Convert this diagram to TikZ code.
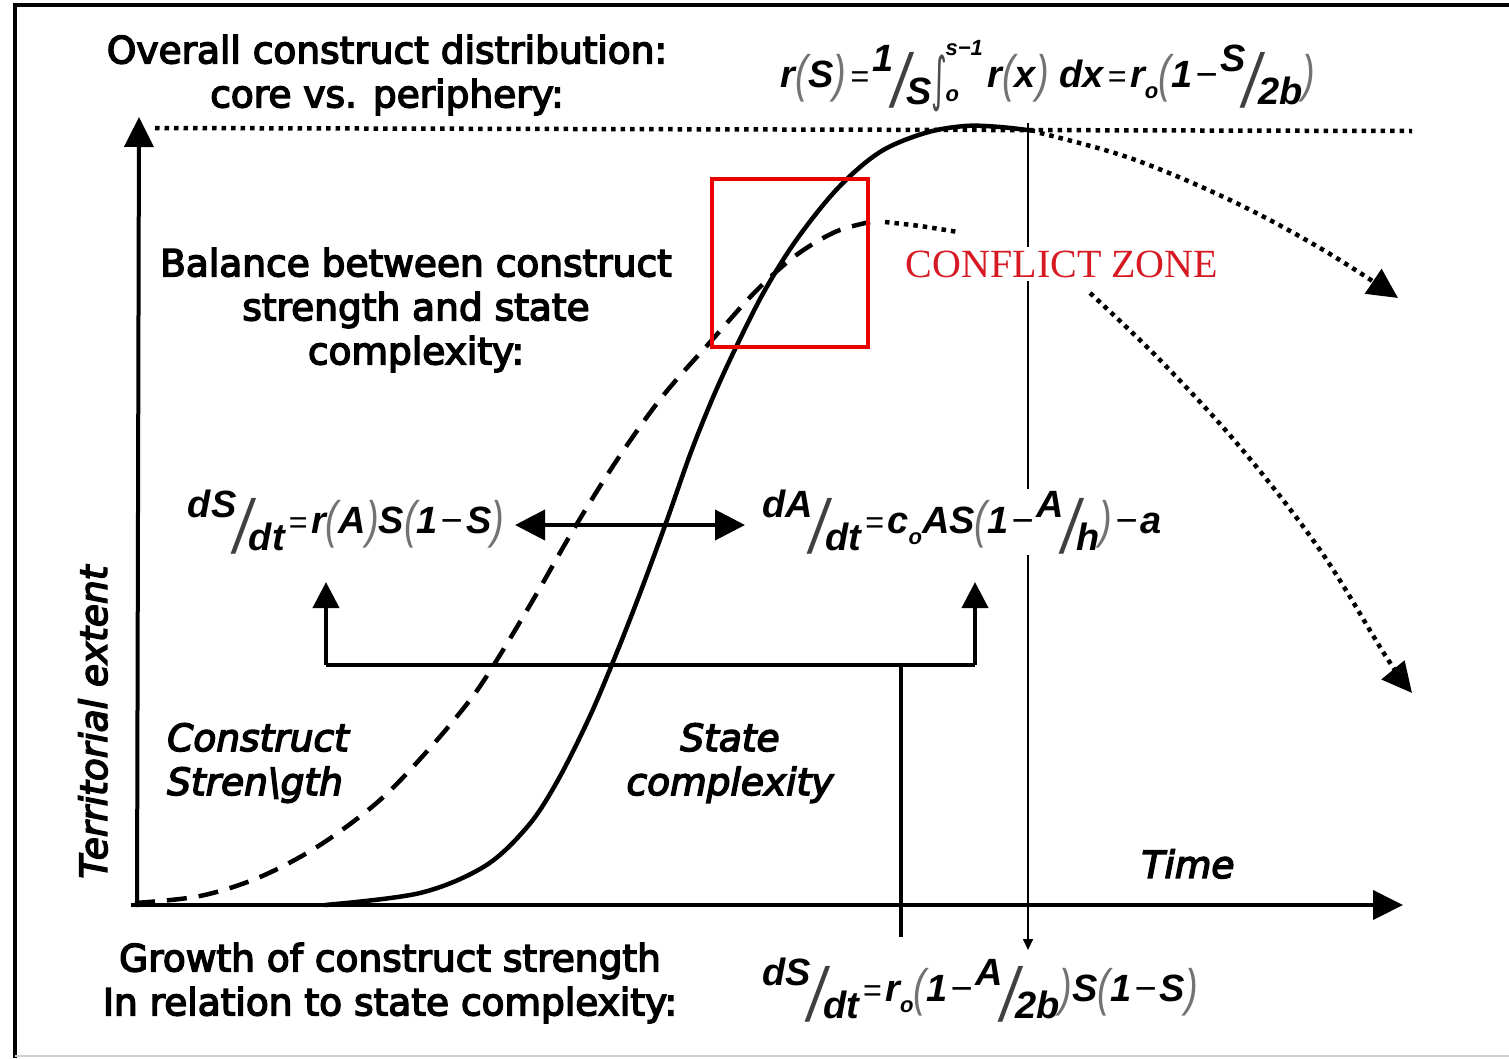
\documentclass[tikz,border=0pt]{standalone}
\usepackage{fontspec}
\usepackage{graphicx}
\usetikzlibrary{arrows.meta}
\newfontfamily\labfont[FakeBold=4]{DejaVu Sans}
\newfontfamily\eqfont{Liberation Sans}
\newfontfamily\czfont{Liberation Serif}
\newfontfamily\symfont{DejaVu Sans}
\definecolor{czred}{RGB}{215,25,35}
\definecolor{boxred}{RGB}{235,0,0}
\newcommand\labsz{\fontsize{37.5}{44}\selectfont}
\newcommand\eqsz{\fontsize{38}{42}\selectfont}
\newcommand\subsz{\fontsize{22}{24}\selectfont}
\newcommand\lp{{\color{black!55}\mdseries\raisebox{-.1em}{\scalebox{1.0}[1.35]{(}}}}
\newcommand\rp{{\color{black!55}\mdseries\raisebox{-.1em}{\scalebox{1.0}[1.35]{)}}}}
\newcommand\slfrac[2]{\raisebox{.42em}{#1}\kern-.05em{\color{black!75}\mdseries\raisebox{-.52em}{\scalebox{1.6}[2.0]{/}}}\kern-.07em\raisebox{-.45em}{#2}}
\newcommand\subo{\raisebox{-.28em}{\subsz o}}
\newcommand\eqs{\kern.1em{\mdseries\scalebox{0.85}{=}}\kern.1em}
\newcommand\mns{\kern.08em{\mdseries −}\kern.08em}
\newcommand\intgl{{\color{black!70}\mdseries\raisebox{-.3em}{\scalebox{0.8}[1.55]{\symfont ∫}}}\kern-.05em\rlap{\raisebox{.85em}{\subsz s−1}}\raisebox{-.35em}{\subsz o}\kern.75em}
\begin{document}
\begin{tikzpicture}[x=1pt,y=-1pt,
  lab/.style={font=\labfont\labsz, align=center, inner sep=0pt},
  itlab/.style={font=\labfont\labsz\itshape, inner sep=0pt},
  eq/.style={font=\eqfont\eqsz\bfseries\itshape, inner sep=1pt, fill=white},
  thick4/.style={line width=4pt},
  dotline/.style={line width=4.5pt, dash pattern=on 4.5pt off 5pt},
  bigtri/.style={-{Triangle[length=30pt,width=29pt]}},
  midtri/.style={-{Triangle[length=26pt,width=26pt]}}
]
\useasboundingbox (0,0) rectangle (1509,1058);
% frame
\draw[line width=4pt] (15,1058) -- (15,5) -- (1509,5);
\draw[black!18, line width=1.5pt] (15,1056) -- (1509,1056);

% axes
\coordinate (yb) at (137,907);
\coordinate (yt) at (139,117);
\coordinate (xb) at (131,905);
\coordinate (xt) at (1403,905);
\draw[thick4, bigtri] (yb) -- (yt);
\draw[thick4, bigtri] (xb) -- (xt);

% top dotted level line
\coordinate (dl) at (155,128);
\coordinate (dr) at (1412,131);
\draw[dotline] (dl) -- (dr);

% thin vertical line with arrow (drawn before white-filled nodes)
\coordinate (vt) at (1028,123);
\coordinate (vb) at (1028,950);
\draw[line width=1.6pt, -{Triangle[length=11pt,width=10pt]}] (vt) -- (vb);

% solid curve (state complexity)
\draw[line width=4.5pt, line join=round]
  plot[smooth, tension=0.55] coordinates {(325,905) (420,893) (485,866) (528,826) (558,780) (590,716) (617,652) (642,588) (667,520) (691,452) (714,395) (738,343) (765,290) (797,239) (838,188) (880,152) (925,133) (965,126) (1000,127) (1035,131)};
% dashed curve (construct strength)
\draw[line width=4.5pt, dash pattern=on 20pt off 12pt]
  plot[smooth, tension=0.55] coordinates {(135,903) (200,896) (260,877) (320,845) (380,800) (430,748) (470,700) (495,663) (533,600) (575,527) (617,460) (662,397) (712,340) (755,292) (795,256) (835,232) (870,222)};
\draw[dotline] plot[smooth] coordinates {(885,222) (920,226) (958,232)};

% dotted branches
\draw[dotline, bigtri] plot[smooth, tension=0.6] coordinates {(1040,133) (1130,158) (1230,200) (1320,248) (1398,298)};
\draw[dotline, bigtri] plot[smooth, tension=0.6] coordinates {(1090,293) (1160,360) (1240,447) (1320,550) (1385,655) (1412,693)};

% red box
\draw[boxred, line width=4pt] (712,179) rectangle (868,347);

% texts
\node[lab] (ov) at (387,75) {Overall construct distribution:\\core vs. periphery:};
\node[lab] (bal) at (416,310) {Balance between construct\\strength and state\\complexity:};
\node[lab] (gro) at (390,983) {Growth of construct strength\\In relation to state complexity:};
\node[itlab, anchor=west, align=left] (cs) at (167,763) {Construct\\Stren\textbackslash gth};
\node[itlab, align=center] (sc) at (730,763) {State\\complexity};
\node[itlab] (time) at (1188,864) {Time};
\node[itlab, rotate=90] (terr) at (93,722) {Territorial extent};
\node[font=\czfont\fontsize{40}{44}\selectfont, text=czred, fill=white, inner sep=4pt] (cz) at (1062,264) {CONFLICT ZONE};

% equations
\node[eq] (eqT) at (1048,76) {r\lp S\rp\eqs\slfrac{1}{S}\intgl r\lp x\rp\ dx\eqs r\subo\lp 1\mns\slfrac{S}{2b}\rp};
\node[eq] (eqL) at (346,522) {\slfrac{dS}{dt}\eqs r\lp A\rp S\lp 1\mns S\rp};
\node[eq] (eqR) at (962,522) {\slfrac{dA}{dt}\eqs c\subo AS\lp 1\mns\slfrac{A}{h}\rp\mns a};
\node[eq] (eqB) at (980,990) {\slfrac{dS}{dt}\eqs r\subo\lp 1\mns\slfrac{A}{2b}\rp S\lp 1\mns S\rp};

% double arrow between equations
\coordinate (al) at (515,525);
\coordinate (ar) at (745,525);
\draw[thick4, {Triangle[length=30pt,width=30pt]}-{Triangle[length=30pt,width=30pt]}] (al) -- (ar);

% feedback bracket
\coordinate (bl) at (326,665);
\coordinate (br) at (975,665);
\coordinate (bm) at (901,665);
\coordinate (bb) at (901,937);
\coordinate (tl) at (326,582);
\coordinate (tr) at (975,582);
\draw[thick4] (bb) -- (bm);
\draw[thick4, line join=miter] (tl |- bl) -- (br);
\draw[thick4, midtri] (bl) -- (tl);
\draw[thick4, midtri] (br) -- (tr);
\end{tikzpicture}
\end{document}
